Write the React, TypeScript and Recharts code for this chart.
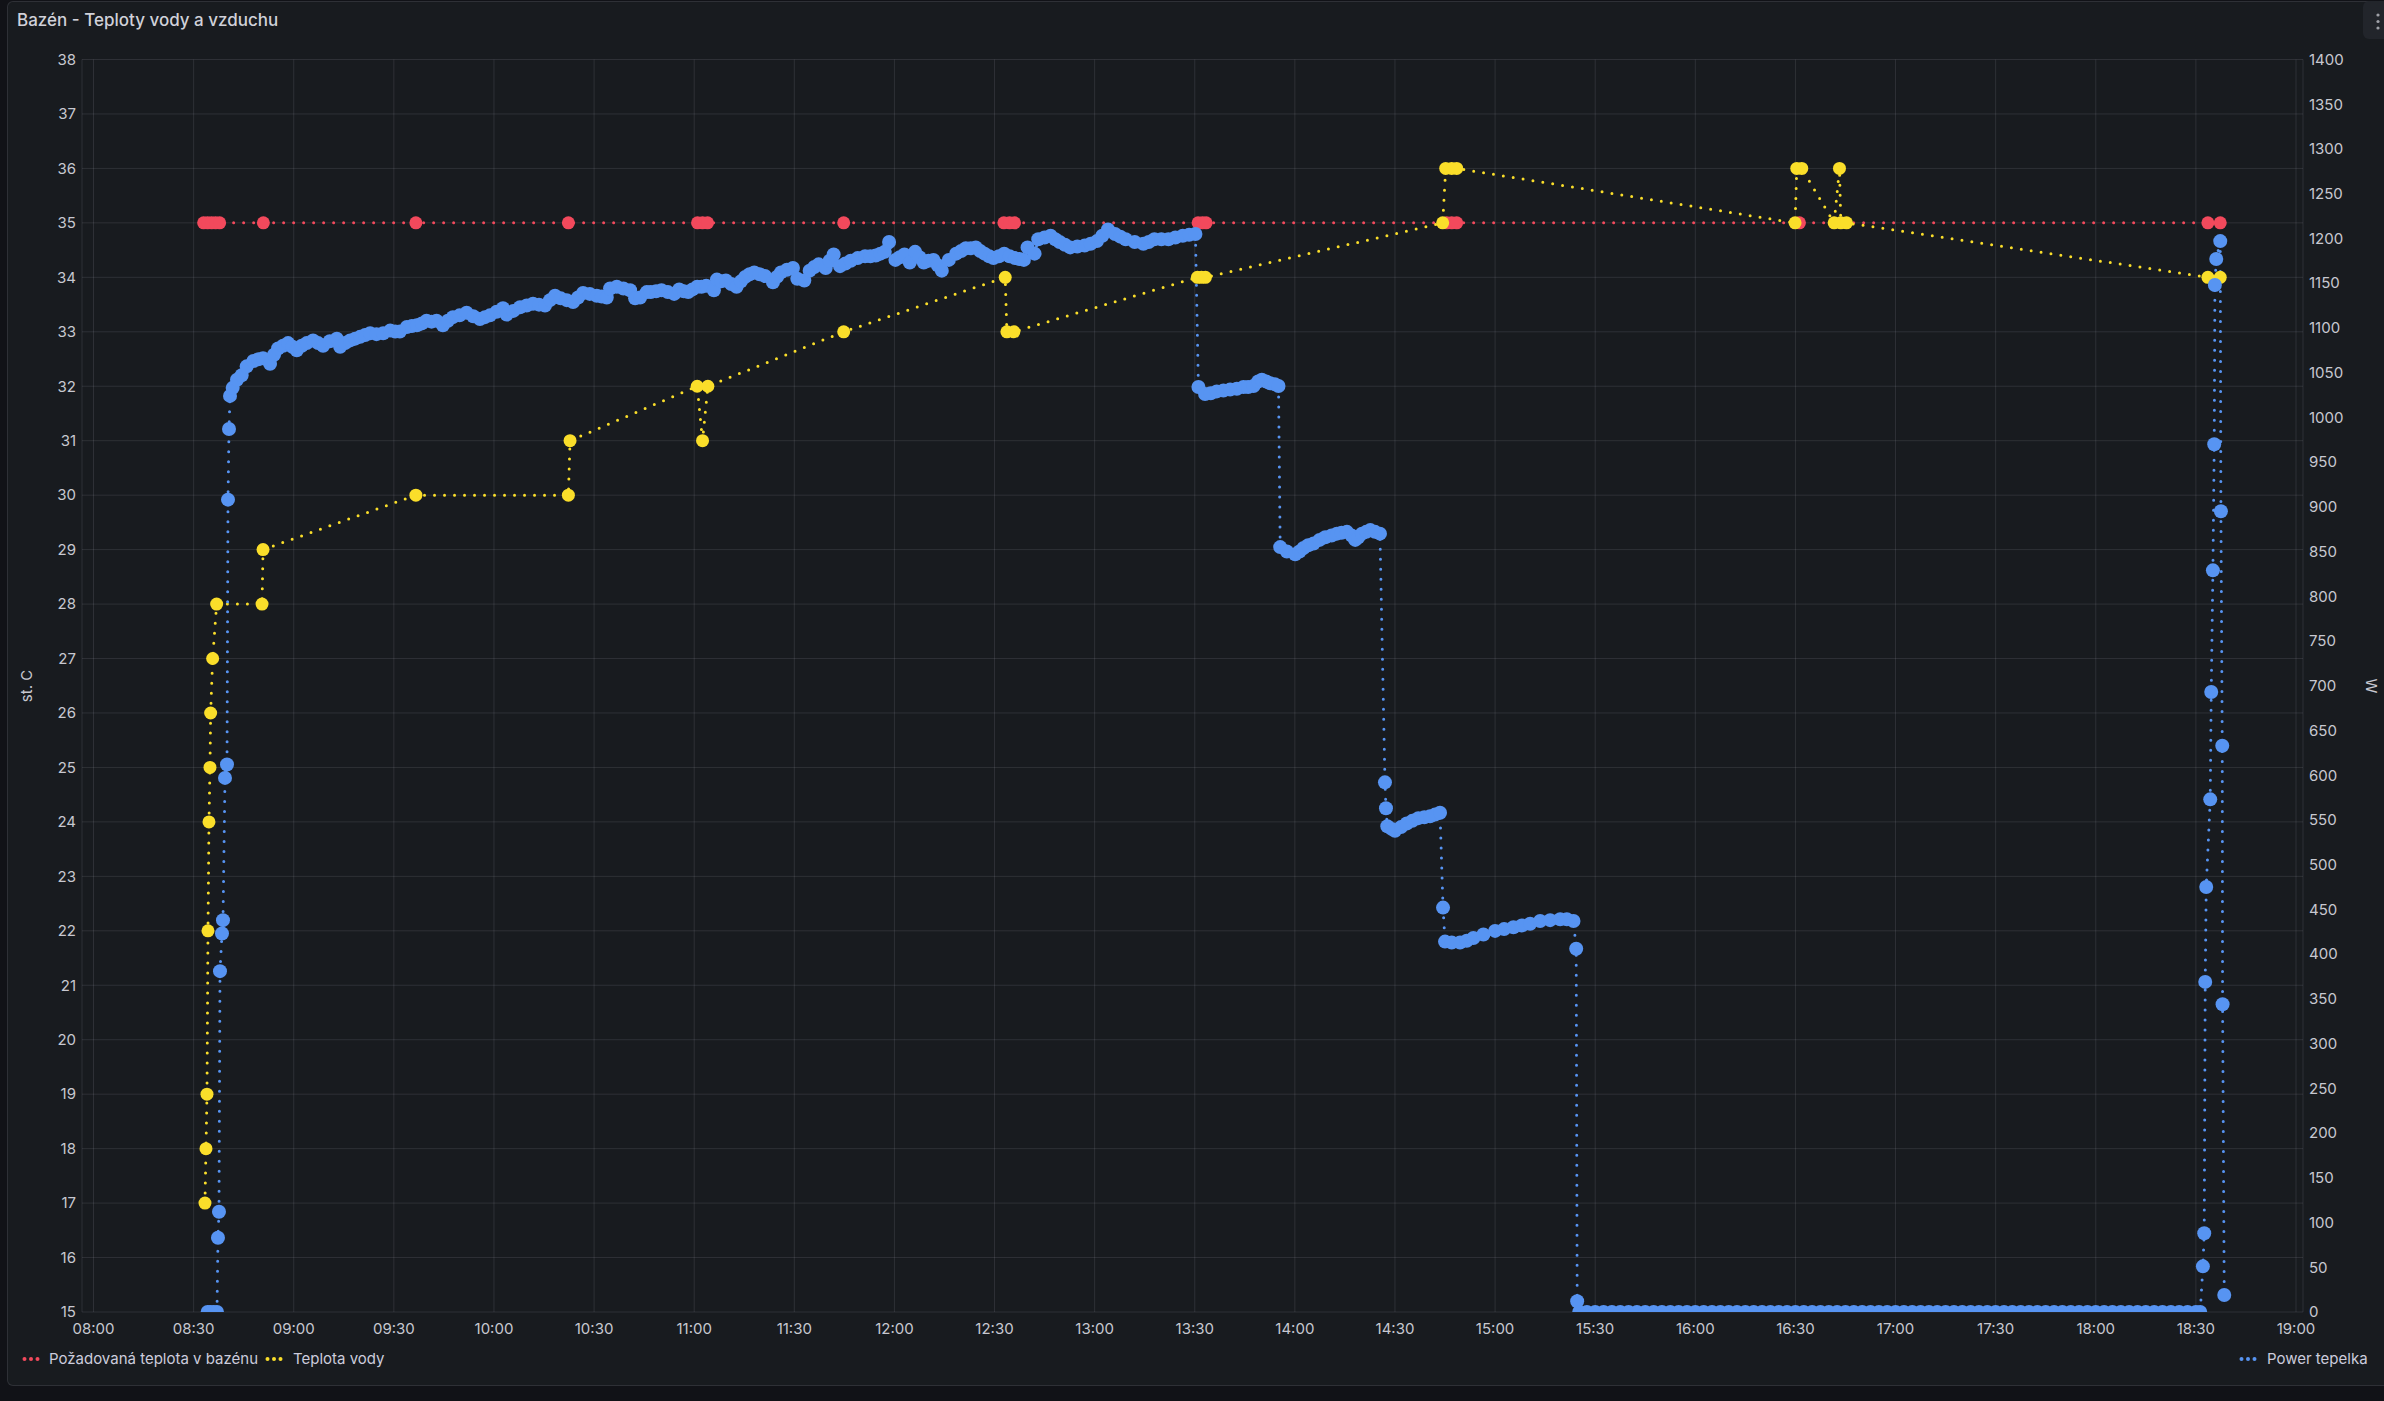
import React from 'react';
import { ComposedChart, Line, XAxis, YAxis, CartesianGrid } from 'recharts';

// minutes since 08:00
const xTickMinutes = [0, 30, 60, 90, 120, 150, 180, 210, 240, 270, 300, 330, 360, 390, 420, 450, 480, 510, 540, 570, 600, 630, 660];
const xTickLabels = ['08:00', '08:30', '09:00', '09:30', '10:00', '10:30', '11:00', '11:30', '12:00', '12:30', '13:00', '13:30', '14:00', '14:30', '15:00', '15:30', '16:00', '16:30', '17:00', '17:30', '18:00', '18:30', '19:00'];
const leftTicks = [15, 16, 17, 18, 19, 20, 21, 22, 23, 24, 25, 26, 27, 28, 29, 30, 31, 32, 33, 34, 35, 36, 37, 38];
const rightTicks = [0, 50, 100, 150, 200, 250, 300, 350, 400, 450, 500, 550, 600, 650, 700, 750, 800, 850, 900, 950, 1000, 1050, 1100, 1150, 1200, 1250, 1300, 1350, 1400];

const setpointTimes = [33.0, 34.2, 35.4, 36.6, 37.8, 50.9, 96.6, 142.3, 181, 182.5, 184, 224.8, 272.8, 274.5, 276, 331, 332.3, 333.4, 405.5, 407, 408.5, 511.2, 633.6, 637.3];
const setpointValues = [35, 35, 35, 35, 35, 35, 35, 35, 35, 35, 35, 35, 35, 35, 35, 35, 35, 35, 35, 35, 35, 35, 35, 35];

const waterTimes = [33.4, 33.7, 34.0, 34.3, 34.6, 34.9, 35.1, 35.7, 36.9, 50.5, 50.8, 96.6, 142.3, 142.8, 180.9, 182.5, 184.1, 224.8, 273.2, 273.7, 275.8, 330.8, 332.0, 333.2, 404.3, 405.2, 407.0, 408.5, 509.9, 510.4, 511.9, 521.6, 523.2, 523.6, 525.3, 633.6, 637.3];
const waterValues = [17, 18, 19, 22, 24, 25, 26, 27, 28, 28, 29, 30, 30, 31, 32, 31, 32, 33, 34, 33, 33, 34, 34, 34, 35, 36, 36, 36, 35, 36, 36, 35, 36, 35, 35, 34, 34];

const powerReadings: [number, number][] = [
  [34.2, 0], [35, 0], [36, 0], [37, 0],
  [37.3, 83], [37.6, 112], [37.9, 381], [38.5, 423], [38.8, 438], [39.4, 597], [40.0, 612], [40.3, 908], [40.6, 987], [40.9, 1024],
  [41.7, 1033], [43.0, 1042], [44.4, 1047], [45.9, 1057], [47.9, 1063], [49.4, 1065], [50.8, 1066], [52.9, 1060], [54.1, 1070], [55.3, 1077],
  [56.8, 1080], [58.3, 1083], [59.6, 1079], [60.9, 1075], [62.4, 1080], [63.9, 1083], [65.8, 1086], [67.3, 1083], [68.8, 1080], [70.8, 1085],
  [72.9, 1088], [73.9, 1079], [75.4, 1083], [76.9, 1086], [78.4, 1088], [79.9, 1090], [81.4, 1092], [82.9, 1094], [84.8, 1093], [86.8, 1094],
  [88.9, 1097], [90.4, 1096], [91.8, 1096], [93.9, 1101], [95.4, 1102], [96.9, 1103], [98.4, 1105], [99.8, 1108], [101.3, 1107], [102.8, 1108],
  [104.7, 1103], [106.2, 1108], [107.7, 1112], [109.7, 1114], [111.8, 1117], [113.8, 1113], [115.8, 1110], [117.3, 1112], [118.8, 1114],
  [120.8, 1118], [122.7, 1122], [123.8, 1115], [125.8, 1119], [127.8, 1123], [129.8, 1125], [131.7, 1127], [133.5, 1126], [135.3, 1125],
  [136.8, 1131], [138.3, 1136], [140.0, 1133], [141.8, 1131], [143.7, 1129], [145.2, 1134], [146.7, 1139], [148.7, 1138], [150.8, 1136],
  [152.3, 1135], [153.8, 1134], [154.8, 1144], [156.8, 1146], [158.8, 1144], [160.8, 1142], [162.3, 1133], [163.8, 1134], [165.8, 1140],
  [167, 1140], [168.6, 1141], [170.2, 1142], [172.1, 1140], [174, 1138], [175.5, 1143], [176.9, 1141], [178.2, 1140], [179.5, 1143],
  [180.9, 1146], [182.2, 1146], [183.6, 1147], [185.9, 1142], [186.8, 1154], [188.1, 1152], [189.5, 1153], [191.1, 1149], [192.7, 1146],
  [194, 1152], [195.3, 1157], [196.6, 1160], [198, 1162], [199.6, 1160], [201.2, 1158], [203.6, 1151], [204.8, 1157], [206, 1162],
  [207.8, 1165], [209.6, 1167], [210.9, 1155], [213, 1153], [214.6, 1164], [216, 1168], [217.3, 1171], [219.4, 1167], [220.6, 1175],
  [221.8, 1182], [223.7, 1169], [225.3, 1172], [226.9, 1175], [229, 1178], [231.2, 1180], [232.8, 1180], [234.4, 1181], [235.8, 1183],
  [237.1, 1185], [238.4, 1196], [240.3, 1176], [241.6, 1179], [243, 1182], [244.6, 1173], [246.2, 1185], [247.5, 1179], [248.8, 1173],
  [250.2, 1175], [251.7, 1176], [253, 1170], [254.2, 1164], [256.3, 1176], [258.5, 1183], [260, 1186], [261.4, 1189], [262.9, 1189],
  [264.4, 1190], [265.7, 1186], [267, 1183], [268.4, 1180], [269.7, 1178], [271.3, 1180], [272.9, 1183], [274.5, 1180], [276.1, 1178],
  [277.5, 1177], [278.8, 1176], [279.9, 1190], [282, 1183], [283.1, 1199], [285, 1201], [286.8, 1203], [288.2, 1199], [289.5, 1196],
  [291.1, 1193], [292.7, 1190], [294.8, 1191], [297, 1192], [298.8, 1194], [300.7, 1197], [302.3, 1203], [304, 1210], [306.1, 1205],
  [307.7, 1202], [309.3, 1199], [312, 1196], [314.6, 1194], [316.2, 1196], [317.9, 1199], [320, 1199], [322.1, 1199], [324.2, 1201],
  [326.4, 1203], [328.3, 1204], [330.2, 1205],
  [331.1, 1034], [333.1, 1026], [334.8, 1027], [336.6, 1029], [338.6, 1030], [340.6, 1031], [342.6, 1032], [344.6, 1034], [346, 1034],
  [347.6, 1035], [349, 1040], [350.1, 1042], [351.4, 1040], [352.6, 1038], [354, 1037], [355.1, 1035],
  [355.6, 855], [357.6, 850], [360.1, 847], [361.4, 850], [362.6, 854], [364, 857], [365.6, 859], [367.4, 863], [369.1, 866], [371, 868],
  [372.6, 870], [374, 871], [375.6, 872], [377, 868], [378.1, 863], [379, 866], [380.1, 870], [381.4, 872], [382.6, 874], [384, 872], [385.5, 870],
  [387, 592], [387.3, 563],
  [387.7, 543], [389, 540], [390, 538], [391.8, 542], [393.5, 546], [395.2, 549], [397, 552], [398.8, 553], [400.5, 554], [402, 556], [403.5, 558],
  [404.4, 452],
  [405, 414], [407, 413], [409.5, 413], [411.5, 415], [413.5, 418], [416.5, 422], [420, 426], [422.7, 428], [425.5, 430], [428, 432],
  [430.5, 434], [433.5, 437], [436.5, 438], [439.5, 439], [441.5, 439], [443.5, 437], [444.3, 406], [444.6, 12],
  [445.2, 0], [447.5, 0], [450, 0], [452.5, 0], [455, 0], [457.5, 0], [460, 0], [462.5, 0], [465, 0], [467.5, 0], [470, 0], [472.5, 0],
  [475, 0], [477.5, 0], [480, 0], [482.5, 0], [485, 0], [487.5, 0], [490, 0], [492.5, 0], [495, 0], [497.5, 0], [500, 0], [502.5, 0],
  [505, 0], [507.5, 0], [510, 0], [512.5, 0], [515, 0], [517.5, 0], [520, 0], [522.5, 0], [525, 0], [527.5, 0], [530, 0], [532.5, 0],
  [535, 0], [537.5, 0], [540, 0], [542.5, 0], [545, 0], [547.5, 0], [550, 0], [552.5, 0], [555, 0], [557.5, 0], [560, 0], [562.5, 0],
  [565, 0], [567.5, 0], [570, 0], [572.5, 0], [575, 0], [577.5, 0], [580, 0], [582.5, 0], [585, 0], [587.5, 0], [590, 0], [592.5, 0],
  [595, 0], [597.5, 0], [600, 0], [602.5, 0], [605, 0], [607.5, 0], [610, 0], [612.5, 0], [615, 0], [617.5, 0], [620, 0], [622.5, 0],
  [625, 0], [627.5, 0], [630, 0], [631.3, 0],
  [632.1, 51], [632.5, 88], [632.8, 369], [633.1, 475], [634.3, 573], [634.6, 693], [635.1, 829], [635.5, 970], [635.7, 1148],
  [636.1, 1177], [637.3, 1197], [637.5, 895], [637.9, 633], [638.0, 344], [638.5, 19],
];

const RED = '#F2495C';
const YELLOW = '#FADE2A';
const BLUE = '#5794F2';
const TEXT = '#c7c8d0';
const FONT = 'Inter, "Noto Sans", sans-serif';

const setpointData = setpointTimes.map((t, i) => ({ t, v: setpointValues[i] }));
const waterData = waterTimes.map((t, i) => ({ t, v: waterValues[i] }));
const powerData = powerReadings.map(([t, v]) => ({ t, v }));

const tickStyle = { fill: TEXT, fontSize: 15, fontFamily: FONT };

const LegendIcon = ({ color }: { color: string }) => (
  <svg width={18} height={8} style={{ display: 'block' }}>
    <circle cx={2.5} cy={4} r={2} fill={color} />
    <circle cx={9} cy={4} r={2} fill={color} />
    <circle cx={15.5} cy={4} r={2} fill={color} />
  </svg>
);

const legendText: React.CSSProperties = {
  position: 'absolute',
  fontFamily: FONT,
  fontSize: 15,
  color: '#ccccdc',
  lineHeight: '20px',
  top: 1349,
  whiteSpace: 'nowrap',
};

export default function App() {
  const dotLine = (color: string, r: number) => ({
    stroke: color,
    strokeWidth: 3,
    strokeDasharray: '0 10',
    strokeLinecap: 'round' as const,
    dot: { r, fill: color, stroke: 'none', strokeWidth: 0, strokeDasharray: '0' },
    activeDot: false as const,
    isAnimationActive: false,
    type: 'linear' as const,
    dataKey: 'v',
    connectNulls: true,
  });

  return (
    <div style={{ position: 'relative', width: 2384, height: 1401, overflow: 'hidden', background: '#111217' }}>
      <style>{'body{margin:0;background:#111217;}'}</style>
      <div
        style={{
          position: 'absolute',
          left: 7,
          top: 1,
          width: 2390,
          height: 1383,
          background: '#181b1f',
          border: '1px solid rgba(204,204,220,0.12)',
          borderRadius: 6,
        }}
      />
      <div
        style={{
          position: 'absolute',
          left: 17,
          top: 12,
          fontFamily: FONT,
          fontSize: 17,
          fontWeight: 500,
          lineHeight: 1,
          color: '#d0d1d9',
          whiteSpace: 'nowrap',
        }}
      >
        Bazén - Teploty vody a vzduchu
      </div>
      <div
        style={{
          position: 'absolute',
          left: 2363,
          top: 1,
          width: 26,
          height: 38,
          background: '#22252b',
          borderRadius: 6,
        }}
      >
        <svg width={26} height={38} style={{ display: 'block' }}>
          <circle cx={15} cy={14} r={1.6} fill="#9fa1a8" />
          <circle cx={15} cy={20.5} r={1.6} fill="#9fa1a8" />
          <circle cx={15} cy={27} r={1.6} fill="#9fa1a8" />
        </svg>
      </div>

      <div style={{ position: 'absolute', left: 0, top: 0 }}>
        <ComposedChart width={2384} height={1401} margin={{ top: 59.5, right: 0, bottom: 59, left: 0 }}>
          <CartesianGrid
            yAxisId="left"
            stroke="rgba(204,204,220,0.12)"
            strokeWidth={1}
            horizontal
            vertical
          />
          <XAxis
            type="number"
            dataKey="t"
            domain={[-3.45, 662.1]}
            ticks={xTickMinutes}
            interval={0}
            allowDataOverflow
            tickFormatter={(v: number) => xTickLabels[xTickMinutes.indexOf(v)]}
            axisLine={false}
            tickLine={false}
            tickSize={0}
            tickMargin={11}
            height={30}
            tick={tickStyle}
          />
          <YAxis
            yAxisId="left"
            orientation="left"
            type="number"
            domain={[15, 38]}
            ticks={leftTicks}
            interval={0}
            allowDataOverflow
            axisLine={false}
            tickLine={false}
            tickSize={0}
            tickMargin={6}
            width={82}
            tick={tickStyle}
          />
          <YAxis
            yAxisId="right"
            orientation="right"
            type="number"
            domain={[0, 1400]}
            ticks={rightTicks}
            interval={0}
            allowDataOverflow
            axisLine={false}
            tickLine={false}
            tickSize={0}
            tickMargin={6}
            width={81}
            tick={tickStyle}
          />
          <Line {...dotLine(RED, 6.5)} yAxisId="left" data={setpointData} name="Požadovaná teplota v bazénu" />
          <Line {...dotLine(YELLOW, 6.5)} yAxisId="left" data={waterData} name="Teplota vody" />
          <Line {...dotLine(BLUE, 7)} yAxisId="right" data={powerData} name="Power tepelka" />
        </ComposedChart>
      </div>

      <div
        style={{
          position: 'absolute',
          left: 26,
          top: 686,
          transform: 'translate(-50%, -50%) rotate(-90deg)',
          fontFamily: FONT,
          fontSize: 15,
          color: TEXT,
          whiteSpace: 'nowrap',
        }}
      >
        st. C
      </div>
      <div
        style={{
          position: 'absolute',
          left: 2371,
          top: 686,
          transform: 'translate(-50%, -50%) rotate(90deg)',
          fontFamily: FONT,
          fontSize: 15,
          color: TEXT,
          whiteSpace: 'nowrap',
        }}
      >
        W
      </div>

      <div style={{ position: 'absolute', left: 22, top: 1355 }}>
        <LegendIcon color={RED} />
      </div>
      <div style={{ ...legendText, left: 49 }}>Požadovaná teplota v bazénu</div>
      <div style={{ position: 'absolute', left: 265, top: 1355 }}>
        <LegendIcon color={YELLOW} />
      </div>
      <div style={{ ...legendText, left: 293 }}>Teplota vody</div>
      <div style={{ position: 'absolute', left: 2239, top: 1355 }}>
        <LegendIcon color={BLUE} />
      </div>
      <div style={{ ...legendText, left: 2267 }}>Power tepelka</div>
    </div>
  );
}
